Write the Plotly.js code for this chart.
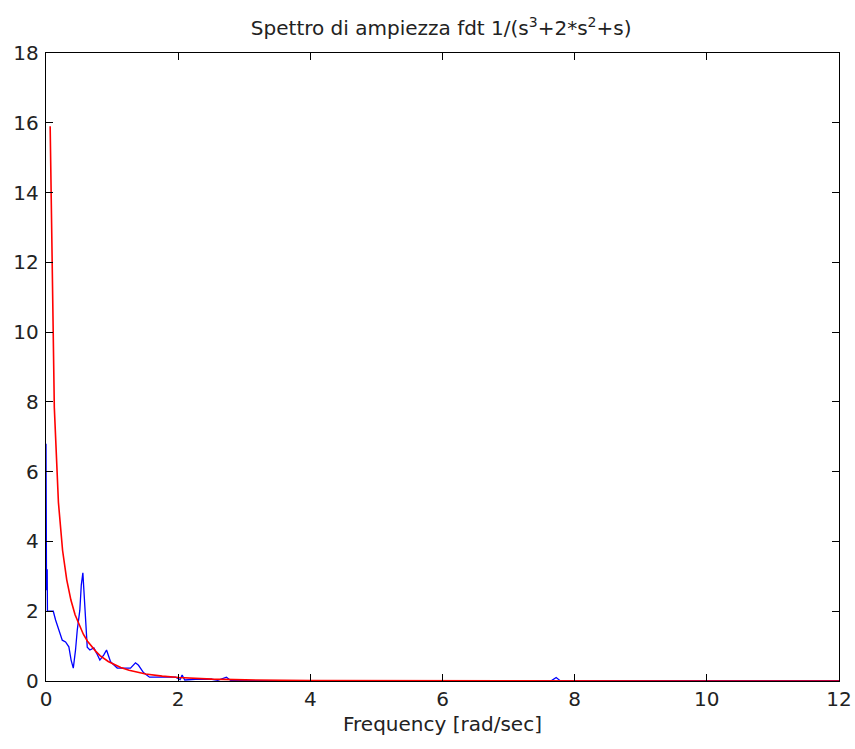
<!DOCTYPE html>
<html>
<head>
<meta charset="utf-8">
<script src="https://cdn.plot.ly/plotly-3.0.1.min.js"></script>
<style>html,body{margin:0;padding:0;background:#fff;}#chart{width:855px;height:749px;}</style>
</head>
<body>
<div id="chart"></div>
<script>
// Red: analytic magnitude spectrum
var redFreq = [0.063, 0.126, 0.188, 0.251, 0.314, 0.377, 0.440, 0.503, 0.565, 0.628, 0.691, 0.754, 0.817, 0.880, 0.942, 1.005, 1.131, 1.257, 1.508, 1.759, 2.011, 2.513, 3.016, 4.02, 6.0, 8.0, 10.0, 12.0];
var redMag  = [15.9, 7.83, 5.12, 3.74, 2.90, 2.32, 1.90, 1.59, 1.34, 1.14, 0.98, 0.85, 0.73, 0.64, 0.56, 0.50, 0.39, 0.31, 0.20, 0.14, 0.10, 0.053, 0.033, 0.015, 0.005, 0.002, 0.001, 0.001];

// Blue: estimated (FFT-based) spectrum
var blueFreq = [0.0, 0.008, 0.012, 0.018, 0.022, 0.11, 0.145, 0.195, 0.246, 0.296, 0.346, 0.38, 0.413, 0.447, 0.473, 0.512, 0.534, 0.558, 0.573, 0.599, 0.624, 0.664, 0.724, 0.765, 0.815, 0.875, 0.916, 0.977, 1.078, 1.173, 1.279, 1.354, 1.40, 1.475, 1.566, 1.96, 2.03, 2.06, 2.10, 2.26, 2.51, 2.60, 2.73, 2.80, 4.0, 6.0, 7.65, 7.72, 7.78, 10.0, 12.0];
var blueMag  = [6.8, 2.6, 5.6, 3.2, 2.0, 2.0, 1.75, 1.46, 1.17, 1.12, 0.98, 0.6, 0.37, 0.89, 1.46, 2.03, 2.75, 3.1, 2.6, 1.46, 0.97, 0.89, 0.95, 0.8, 0.6, 0.75, 0.89, 0.55, 0.37, 0.37, 0.37, 0.52, 0.45, 0.24, 0.11, 0.11, 0.04, 0.17, 0.03, 0.05, 0.05, 0.02, 0.11, 0.01, 0.01, 0.01, 0.01, 0.1, 0.01, 0.01, 0.01];

var xTicks = [0, 2, 4, 6, 8, 10, 12];
var yTicks = [0, 2, 4, 6, 8, 10, 12, 14, 16, 18];

var traces = [
  {x: blueFreq, y: blueMag, type: 'scatter', mode: 'lines', line: {color: '#0000ff', width: 1.3}, hoverinfo: 'none'},
  {x: redFreq, y: redMag, type: 'scatter', mode: 'lines', line: {color: '#ff0000', width: 1.6}, hoverinfo: 'none'}
];

var fontFam = 'DejaVu Sans, Arial, sans-serif';
var axisCommon = {
  showline: true, linecolor: '#000', linewidth: 1.2, mirror: 'ticks',
  ticks: 'inside', ticklen: 7, tickwidth: 1.2, tickcolor: '#000',
  showgrid: false, zeroline: false,
  tickfont: {family: fontFam, size: 20, color: '#222'}
};

var layout = {
  width: 855, height: 749,
  margin: {l: 46, r: 16, t: 53, b: 68},
  paper_bgcolor: '#fff', plot_bgcolor: '#fff',
  showlegend: false,
  title: {text: 'Spettro di ampiezza fdt 1/(s<sup>3</sup>+2*s<sup>2</sup>+s)', font: {family: fontFam, size: 20, color: '#222'}, x: 0.516, xanchor: 'center', y: 0.962, yanchor: 'middle'},
  xaxis: Object.assign({}, axisCommon, {range: [0, 12], tickvals: xTicks, ticktext: xTicks.map(String),
    title: {text: 'Frequency [rad/sec]', font: {family: fontFam, size: 20, color: '#222'}, standoff: 6}}),
  yaxis: Object.assign({}, axisCommon, {range: [0, 18], tickvals: yTicks, ticktext: yTicks.map(String), ticklabelstandoff: 2})
};

Plotly.newPlot('chart', traces, layout, {displayModeBar: false, staticPlot: true});
</script>
</body>
</html>
